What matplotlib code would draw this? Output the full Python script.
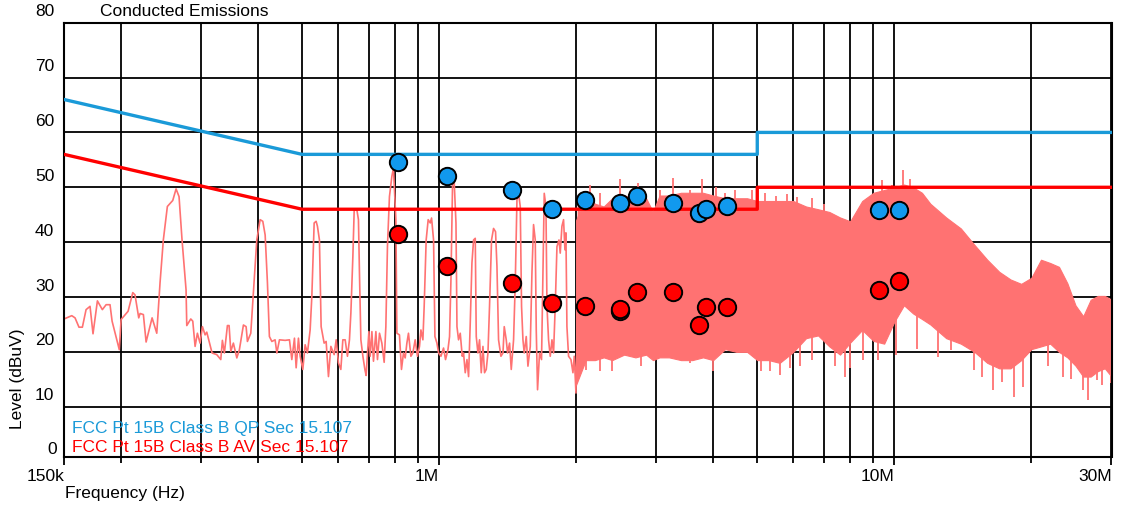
import matplotlib
matplotlib.use("Agg")
import matplotlib.pyplot as plt
import matplotlib.transforms as mtransforms
import numpy as np

plt.rcParams['font.family'] = ['Liberation Sans', 'DejaVu Sans']

# measured spectrum, sparse part (kHz, dBuV)
trace_khz = [150, 156, 158.6, 161.8, 164.6, 167.7, 171.1, 173.7, 177.6, 182.1, 185.6, 189.3,
             191.3, 198.4, 200.2, 207.4, 212.4, 214.8, 218.9, 220.4, 224.1, 227.2, 234.2, 239.8,
             243.8, 247.9, 253.0, 260.0, 264.4, 268.4, 272.5, 278.1, 279.1, 284.8, 287.7, 291.1,
             294.5, 298.5, 302.1, 306.2, 308.8, 317.2, 324.8, 331.5, 334.2, 337.6, 342.8, 345.7,
             348.7, 353.3, 359.5, 364.2, 371.7, 376.8, 379.3, 385.8, 390.9, 397.7, 404.5, 410.0,
             414.9, 419.7, 423.9, 429.2, 436.3, 440.2, 446.0, 459.0, 469.2, 474.8, 481.2, 485.3,
             491.0, 495.2, 502.0, 507.9, 513.8, 520.9, 525.4, 531.6, 536.9, 540.5, 546.0, 550.7,
             559.1, 564.8, 571.5, 578.5, 588.2, 594.2, 601.2, 608.4, 614.6, 621.9, 629.1, 635.5,
             640.1, 646.6, 650.9, 659.8, 665.1, 668.5, 673.3, 680.2, 687.1, 691.5, 696.2, 701.2,
             705.7, 711.9, 717.6, 726.4, 732.3, 739.8, 748.7, 757.5, 764.0, 770.2, 778.0, 787.6,
             793.9, 803.7, 807.8, 818.4, 826.8, 835.2, 842.5, 849.7, 856.6, 867.1, 875.9, 886.1,
             896.5, 905.7, 912.2, 921.4, 927.4, 936.8, 946.4, 956.2, 962.7, 972.5, 979.2, 989.2,
             997.5, 1009.5, 1022.8, 1033.2, 1045.9, 1054.4, 1061.9, 1070.5, 1079.7, 1089.2, 1094.7,
             1103.5, 1113.0, 1124.3, 1131.8, 1141.5, 1151.5, 1160.9, 1170.8, 1180.8, 1190.6, 1200.8,
             1206.9, 1217.2, 1227.1, 1237.8, 1248.4, 1258.5, 1269.5, 1280.4, 1290.7, 1303.9, 1317.2,
             1330.6, 1340.1, 1351.0, 1367.5, 1381.5, 1390.4, 1404.6, 1414.0, 1428.4, 1440.6, 1457.6,
             1470.1, 1482.7, 1494.8, 1507.7, 1517.7, 1528.4, 1538.4, 1554.1, 1567.5, 1586.0, 1599.6,
             1612.6, 1626.6, 1634.8, 1645.5, 1662.2, 1679.1, 1691.1, 1702.2, 1717.0, 1725.8, 1739.8,
             1754.6, 1770.0, 1784.3, 1799.6, 1815.3, 1833.7, 1845.7, 1861.5, 1876.9, 1890.0, 1899.6,
             1909.2, 1925.1, 1948.4, 1968.3, 1981.4, 1998.4, 2008.5, 2024.7, 2042.3]
trace_dbuv = [26.0, 26.6, 26.2, 24.5, 24.5, 27.7, 28.3, 23.3, 29.3, 27.7, 28.6, 28.6,
              25.6, 20.4, 25.9, 27.4, 30.8, 30.4, 26.2, 27.0, 26.8, 21.8, 26.2, 23.4,
              32.6, 40.4, 46.5, 47.6, 49.7, 48.3, 40.4, 31.3, 24.8, 26.0, 25.6, 21.0,
              23.4, 21.6, 24.6, 23.1, 23.6, 19.8, 19.5, 18.6, 22.1, 19.8, 24.8, 24.8,
              20.1, 21.6, 18.9, 20.4, 24.9, 24.6, 21.9, 23.4, 30.7, 40.4, 44.1, 43.8,
              41.3, 32.6, 22.8, 21.9, 22.2, 19.8, 22.2, 22.1, 22.2, 18.6, 22.5, 17.1,
              22.5, 19.2, 16.8, 21.3, 19.8, 24.0, 30.1, 43.5, 43.8, 42.9, 40.4, 24.6,
              21.6, 21.9, 15.5, 21.0, 19.5, 22.2, 18.0, 16.8, 22.2, 22.2, 19.2, 22.2,
              27.1, 37.4, 45.8, 45.9, 44.1, 34.4, 22.2, 19.2, 16.8, 15.7, 19.8, 23.7,
              19.2, 23.7, 18.3, 23.7, 18.6, 23.4, 21.6, 18.1, 24.6, 39.2, 48.3, 52.0,
              53.5, 44.1, 23.4, 23.1, 16.8, 19.8, 18.9, 21.6, 23.4, 19.2, 19.8, 22.2,
              19.2, 21.0, 24.0, 22.2, 28.3, 40.4, 44.1, 43.5, 44.4, 40.4, 22.8, 21.6,
              19.8, 19.2, 20.7, 18.6, 20.4, 22.8, 33.2, 50.5, 50.8, 43.5, 24.6,
              22.2, 23.4, 19.2, 19.8, 16.2, 18.6, 15.5, 25.3, 36.2, 40.4, 40.7,
              22.8, 19.8, 22.2, 16.2, 21.0, 16.2, 16.8, 19.8, 28.3, 40.4, 42.5,
              41.9, 35.6, 22.2, 19.2, 19.8, 24.6, 22.2, 19.8, 21.6, 16.8, 22.2,
              32.5, 47.7, 48.9, 46.5, 28.3, 22.2, 19.8, 22.8, 17.4, 21.0, 34.4,
              43.2, 40.4, 24.0, 13.1, 19.8, 18.6, 34.4, 48.9, 46.5, 28.3, 22.2,
              19.2, 22.2, 19.8, 28.3, 39.2, 40.4, 38.0, 42.9, 44.1, 38.6, 41.7,
              24.6, 19.2, 18.6, 16.2, 19.2, 12.5, 22.2, 46.5, 43.5]

# dense part of the sweep above 2 MHz: bulk upper / lower envelope (MHz, dBuV)
band_mhz = [2.0, 2.1, 2.2, 2.3, 2.4, 2.55, 2.7, 2.85, 2.95, 3.05, 3.2, 3.4, 3.6, 3.8, 4.0,
            4.25, 4.5, 4.75, 5.0, 5.3, 5.6, 6.0, 6.4, 6.8, 7.2, 7.6, 8.0, 8.5, 9.0, 9.5, 10,
            10.5, 11, 11.5, 12, 13, 14, 15, 16, 17, 18, 19, 20, 21, 22, 23, 24, 25, 26,
            27, 28, 29, 30]
band_hi = [44.0, 48.5, 47.0, 46.5, 48.0, 48.5, 48.0, 48.0, 45.5, 48.5, 48.5, 49.0, 49.0, 49.0, 48.5,
           48.0, 48.0, 48.0, 47.5, 47.5, 47.5, 47.5, 46.5, 46.0, 45.5, 44.5, 43.8, 47.5, 49.0, 49.5, 50.0,
           50.5, 50.0, 49.0, 47.0, 44.5, 42.5, 39.5, 36.8, 34.6, 33.2, 32.4, 33.5, 36.8, 36.2, 35.5, 32.5,
           28.5, 26.5, 29.5, 30.2, 30.2, 29.5]
band_lo = [14.0, 18.5, 18.5, 19.0, 18.5, 19.5, 19.0, 19.5, 18.5, 19.0, 19.0, 18.5, 18.5, 19.0, 18.5,
           20.5, 20.0, 20.0, 18.5, 18.5, 18.0, 20.0, 22.5, 23.0, 21.0, 19.5, 21.7, 24.0, 22.0, 21.5, 25.5,
           28.5, 27.0, 26.0, 25.0, 22.5, 21.5, 20.0, 18.0, 17.0, 17.0, 18.5, 20.5, 21.0, 21.5, 20.0, 19.0,
           17.5, 15.5, 15.5, 16.5, 17.0, 15.5]

# isolated sweep lines that poke out of the band (MHz, dBuV)
peak_mhz = [2.15, 2.26, 2.50, 2.73, 3.06, 3.27, 3.56, 3.79, 4.05, 4.25, 4.47, 4.88,
            5.2, 5.5, 5.8, 6.1, 6.6, 7.0, 9.42, 9.9, 10.47, 10.85]
peak_dbuv = [50.5, 49.0, 51.6, 50.8, 49.5, 51.7, 49.5, 51.6, 50.0, 49.0, 49.5, 49.5,
             49.0, 48.5, 48.8, 48.3, 48.0, 47.0, 51.4, 50.5, 53.2, 51.5]
dip_mhz = [2.10, 2.26, 2.40, 2.77, 3.56, 4.00, 5.1, 5.34, 5.62, 5.9, 6.22, 6.6, 7.4,
           7.81, 8.01, 8.55, 9.23, 10.1, 11.2, 12.5, 13.29, 14.93, 15.6, 16.5, 17.2,
           18.3, 19.2, 21.8, 23.5, 24.5, 26.0, 26.6, 27.9, 28.6, 29.85]
dip_dbuv = [16.7, 16.5, 16.5, 17.5, 18.0, 16.5, 16.5, 16.5, 15.7, 17.0, 17.5, 18.5, 17.5,
            15.5, 17.0, 18.5, 18.5, 19.5, 20.5, 19.0, 20.3, 16.7, 15.5, 13.0, 14.5,
            11.8, 13.6, 17.5, 15.5, 15.0, 13.0, 11.2, 14.9, 14.0, 14.3]

# FCC Part 15B class B limits
limit_hz = [150e3, 500e3, 5e6, 5e6, 30e6]
qp_limit = [66, 56, 56, 60, 60]
av_limit = [56, 46, 46, 50, 50]

# final measurements
qp_hz = [811.9e3, 1040.4e3, 1445.7e3, 1766.4e3, 2087.1e3, 2500.8e3, 2716.1e3, 3264.8e3,
         3729.9e3, 3850.8e3, 4292.1e3, 9259e3, 10225e3]
qp_dbuv = [54.7, 52.1, 49.5, 46.0, 47.6, 47.2, 48.5, 47.2, 45.3, 46.0, 46.6, 45.9, 45.9]
av_hz = [811.9e3, 1040.4e3, 1445.7e3, 1766.4e3, 2087.1e3, 2500.8e3, 2500.8e3, 2716.1e3,
         3264.8e3, 3729.9e3, 3850.8e3, 4292.1e3, 9259e3, 10225e3]
av_dbuv = [41.4, 35.6, 32.6, 28.9, 28.4, 27.5, 27.9, 31.0, 31.0, 24.9, 28.1, 28.1, 31.3, 33.0]

QP_COLOR = '#1a9ad8'
AV_COLOR = '#ff0000'
TRACE_COLOR = '#ff7272'

fig = plt.figure(figsize=(11.25, 5.11), dpi=100)
ax = fig.add_axes([0.0569, 0.1063, 0.9311, 0.8493])

band_hz = np.array(band_mhz) * 1e6
band_mid = (np.array(band_hi) + np.array(band_lo)) / 2

ax.plot(np.array(trace_khz) * 1e3, trace_dbuv, color=TRACE_COLOR, lw=1.2, zorder=2)
ax.fill_between(band_hz, band_lo, band_hi, color=TRACE_COLOR, lw=0.8, zorder=2)

# single lines sticking out of the band, drawn back to the band centre
for f, v in zip(np.array(peak_mhz) * 1e6, peak_dbuv):
    ax.vlines(f, np.interp(np.log(f), np.log(band_hz), band_mid), v, color=TRACE_COLOR, lw=1.3, zorder=2)
for f, v in zip(np.array(dip_mhz) * 1e6, dip_dbuv):
    ax.vlines(f, v, np.interp(np.log(f), np.log(band_hz), band_mid), color=TRACE_COLOR, lw=1.3, zorder=2)

ax.plot(limit_hz, qp_limit, color=QP_COLOR, lw=2.4, zorder=3)
ax.plot(limit_hz, av_limit, color=AV_COLOR, lw=2.4, zorder=3)

ax.plot(qp_hz, qp_dbuv, 'o', ms=12.5, mfc='#1199ee', mec='black', mew=1.4, zorder=5)
ax.plot(av_hz, av_dbuv, 'o', ms=12.5, mfc=AV_COLOR, mec='black', mew=1.4, zorder=5)

ax.set_xscale('log')
ax.set_xlim(150e3, 30e6)
ax.set_ylim(0.9, 80)

major = [150e3, 1e6, 10e6, 30e6]
minor = [2e5, 3e5, 4e5, 5e5, 6e5, 7e5, 8e5, 9e5,
         2e6, 3e6, 4e6, 5e6, 6e6, 7e6, 8e6, 9e6, 2e7]
ax.set_xticks(major)
ax.set_xticklabels(['150k', '1M', '10M', '30M'], ha='right', fontsize=12.5)
ax.set_xticks(minor, minor=True)
ax.xaxis.set_minor_formatter(matplotlib.ticker.NullFormatter())
ax.tick_params(axis='x', which='major', length=6, width=1.3, pad=3)
ax.tick_params(axis='x', which='minor', length=4, width=1.3)

ax.set_yticks(range(10, 90, 10))
ax.set_yticklabels([str(v) for v in range(10, 90, 10)], fontsize=12.5)
ax.tick_params(axis='y', length=0, pad=7)
shift = mtransforms.ScaledTranslation(0, 9 / 72, fig.dpi_scale_trans)
for lbl in ax.get_yticklabels():
    lbl.set_transform(lbl.get_transform() + shift)
ax.text(-7 / 1048, 0.9, '0', transform=mtransforms.blended_transform_factory(ax.transAxes, ax.transData),
        ha='right', va='bottom', fontsize=12.5)

ax.grid(True, which='both', color='black', lw=1.3)
ax.set_axisbelow(True)
for sp in ax.spines.values():
    sp.set_linewidth(1.5)

ax.text(8 / 1048, 0.066, 'FCC Pt 15B Class B QP Sec 15.107', transform=ax.transAxes,
        color=QP_COLOR, fontsize=12.5, va='center')
ax.text(8 / 1048, 0.022, 'FCC Pt 15B Class B AV Sec 15.107', transform=ax.transAxes,
        color=AV_COLOR, fontsize=12.5, va='center')

fig.text(100 / 1125, 1 - 12 / 511, 'Conducted Emissions', fontsize=12.5, va='center')
fig.text(18 / 1125, 1 - 379 / 511, 'Level (dBuV)', fontsize=12.5, rotation=90, ha='center', va='center')
fig.text(65 / 1125, 1 - 493 / 511, 'Frequency (Hz)', fontsize=12.5, va='center')

fig.savefig('out.png', dpi=100)
